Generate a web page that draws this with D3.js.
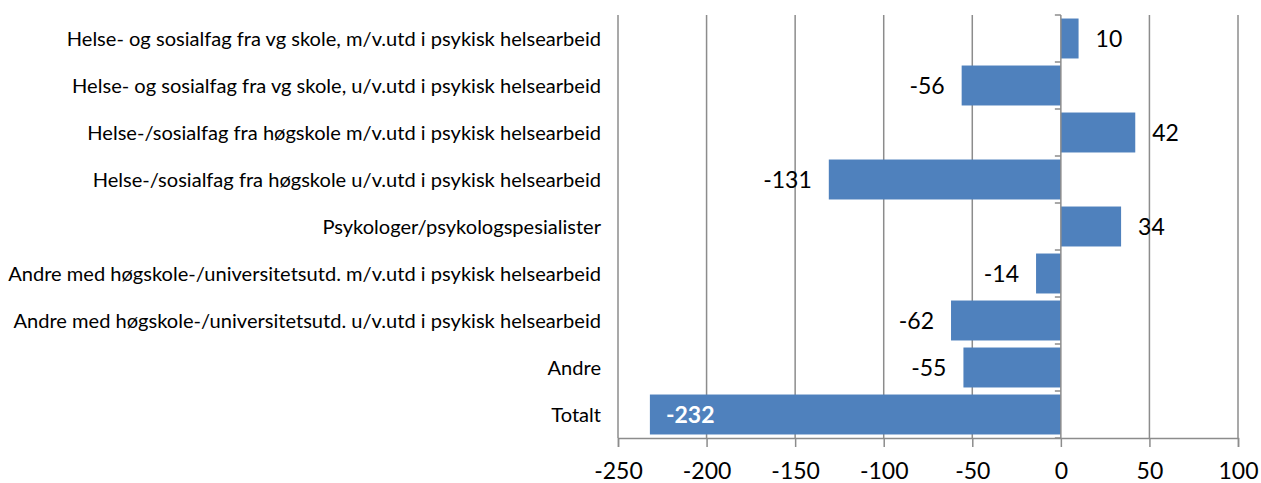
<!DOCTYPE html>
<html>
<head>
<meta charset="utf-8">
<script src="https://cdn.jsdelivr.net/npm/d3@7"></script>
<style>
  body { margin: 0; background: #fff; }
  svg { display: block; }
</style>
</head>
<body>
<div id="chart"></div>
<script>
// categories, top to bottom
const categories = [
  "Helse- og sosialfag fra vg skole, m/v.utd i psykisk helsearbeid",
  "Helse- og sosialfag fra vg skole, u/v.utd i psykisk helsearbeid",
  "Helse-/sosialfag fra høgskole m/v.utd i psykisk helsearbeid",
  "Helse-/sosialfag fra høgskole u/v.utd i psykisk helsearbeid",
  "Psykologer/psykologspesialister",
  "Andre med høgskole-/universitetsutd. m/v.utd i psykisk helsearbeid",
  "Andre med høgskole-/universitetsutd. u/v.utd i psykisk helsearbeid",
  "Andre",
  "Totalt"
];
const values = [10, -56, 42, -131, 34, -14, -62, -55, -232];
const xTicks = [-250, -200, -150, -100, -50, 0, 50, 100];

const width = 1261, height = 483;
const margin = {top: 15, right: 23, bottom: 45, left: 618};
const font = "Lato, 'Open Sans', sans-serif";
const barColor = "#4f81bd", gridColor = "#8c8c8c";

const svg = d3.select("#chart").append("svg")
    .attr("width", width)
    .attr("height", height)
    .style("font-family", font);

const x = d3.scaleLinear()
    .domain([-250, 100])
    .range([margin.left, width - margin.right]);

const y = d3.scaleBand()
    .domain(categories)
    .range([margin.top, height - margin.bottom])
    .paddingInner(0.15)
    .paddingOuter(0.075);

// gridlines
svg.append("g")
  .selectAll("line")
  .data(xTicks.filter(d => d !== 0))
  .join("line")
    .attr("x1", d => x(d)).attr("x2", d => x(d))
    .attr("y1", margin.top).attr("y2", height - margin.bottom)
    .attr("stroke", gridColor)
    .attr("stroke-width", 1.5);

// bars
svg.append("g")
  .selectAll("rect")
  .data(values)
  .join("rect")
    .attr("x", d => x(Math.min(0, d)))
    .attr("y", (d, i) => y(categories[i]))
    .attr("width", d => Math.abs(x(d) - x(0)))
    .attr("height", y.bandwidth())
    .attr("fill", barColor);

// bottom axis
const xAxis = svg.append("g")
    .attr("transform", `translate(0,${height - margin.bottom})`)
    .call(d3.axisBottom(x).tickValues(xTicks).tickSize(9).tickPadding(16).tickFormat(d3.format("d")));
xAxis.select(".domain").attr("stroke", gridColor).attr("stroke-width", 1.5);
xAxis.selectAll(".tick line").attr("stroke", gridColor).attr("stroke-width", 1.5);
xAxis.selectAll(".tick text")
    .attr("fill", "#000")
    .style("font-family", font)
    .style("font-size", "23px")
    .text(d => d < 0 ? "-" + Math.abs(d) : d);

// zero axis with category ticks
const bounds = d3.range(categories.length + 1).map(i => margin.top + i * y.step());
const zero = svg.append("g");
zero.append("line")
    .attr("x1", x(0)).attr("x2", x(0))
    .attr("y1", margin.top).attr("y2", height - margin.bottom)
    .attr("stroke", gridColor)
    .attr("stroke-width", 1.5);
zero.selectAll("line.tk")
  .data(bounds)
  .join("line")
    .attr("class", "tk")
    .attr("x1", x(0) - 6).attr("x2", x(0))
    .attr("y1", d => d).attr("y2", d => d)
    .attr("stroke", gridColor)
    .attr("stroke-width", 1.5);

// category labels
const catLabels = svg.append("g")
  .selectAll("text")
  .data(categories)
  .join("text")
    .attr("x", margin.left - 17)
    .attr("y", d => y(d) + y.bandwidth() / 2)
    .attr("dy", "0.35em")
    .attr("text-anchor", "end")
    .style("font-size", "17px")
    .text(d => d);

// fit label size to the reference width of the longest label (~593px)
let widest = 0;
catLabels.each(function() { widest = Math.max(widest, this.getComputedTextLength()); });
catLabels.style("font-size", (17 * 593 / widest).toFixed(2) + "px");

// value labels
svg.append("g")
  .selectAll("text")
  .data(values)
  .join("text")
    .attr("y", (d, i) => y(categories[i]) + y.bandwidth() / 2)
    .attr("dy", "0.36em")
    .style("font-size", "23px")
    .each(function(d, i) {
      const t = d3.select(this);
      const label = d < 0 ? "-" + Math.abs(d) : String(d);
      if (i === values.length - 1) {
        t.attr("x", x(d) + 16).attr("text-anchor", "start")
         .attr("fill", "#fff").style("font-weight", "bold");
      } else if (d < 0) {
        t.attr("x", x(d) - 17).attr("text-anchor", "end").attr("fill", "#000");
      } else {
        t.attr("x", x(d) + 17).attr("text-anchor", "start").attr("fill", "#000");
      }
      t.text(label);
    });
</script>
</body>
</html>
